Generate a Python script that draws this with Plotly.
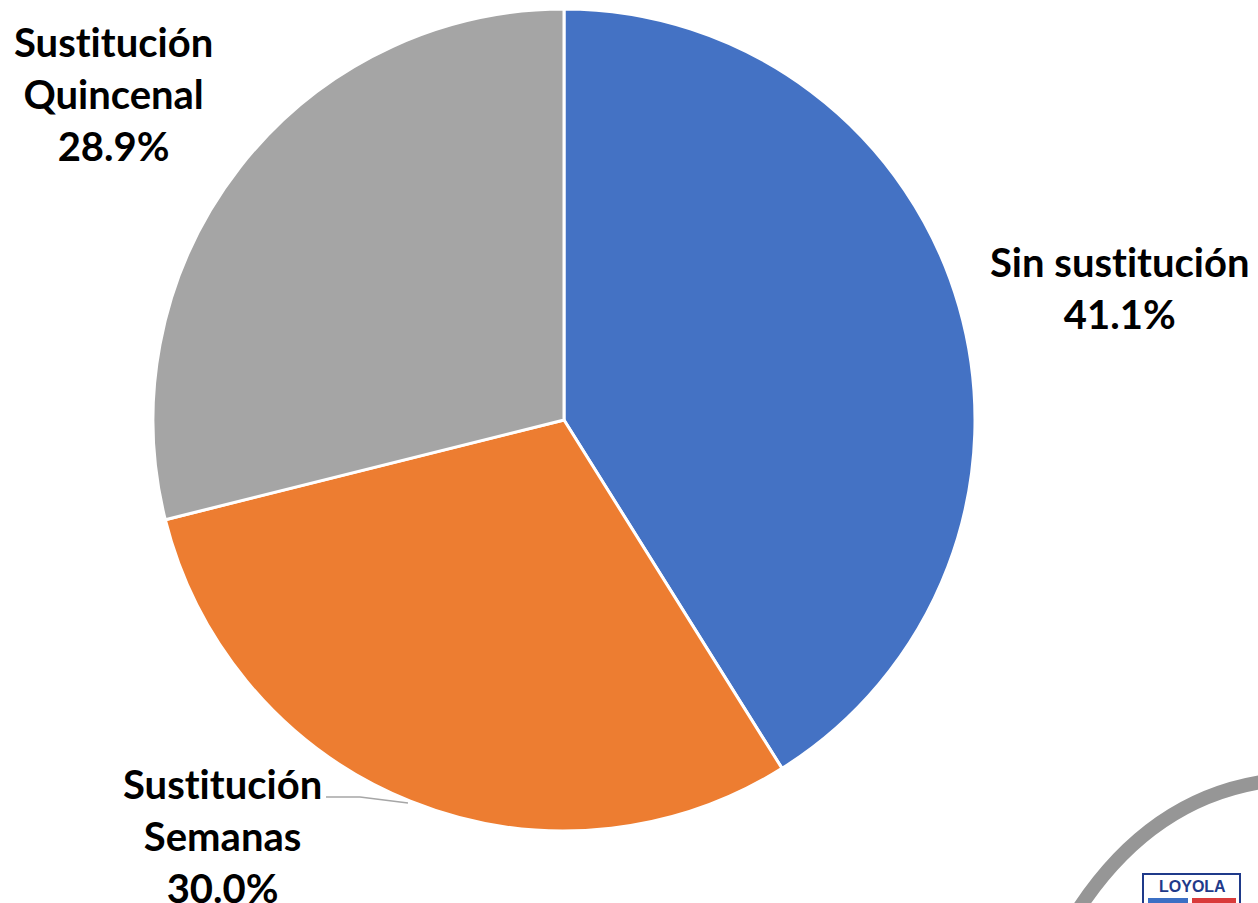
import plotly.graph_objects as go

# Data
categories = ["Sin sustitución", "Sustitución Semanas", "Sustitución Quincenal"]
label_lines = [["Sin sustitución"], ["Sustitución", "Semanas"], ["Sustitución", "Quincenal"]]
shares = [41.1, 30.0, 28.9]
colors = ["#4472C4", "#ED7D31", "#A5A5A5"]

W, H = 1258, 903


def px(x):
    return x / W


def py(y):
    return 1 - y / H


def no_lig(s):
    # keep "t" and "i" as separate glyphs (no "ti" ligature)
    return s.replace("ti", "t\u200ci")


# Pie geometry in pixels
cx, cy, r = 564, 420, 411

fig = go.Figure(
    go.Pie(
        labels=categories,
        values=shares,
        sort=False,
        direction="clockwise",
        rotation=0,
        textinfo="none",
        hoverinfo="label+percent",
        marker=dict(colors=colors, line=dict(color="white", width=3)),
        domain=dict(x=[px(cx - r), px(cx + r)], y=[py(cy + r), py(cy - r)]),
        showlegend=False,
    )
)

# Outside label positions (pixel centres of the text block)
label_pos = [(1120, 288), (222, 836), (113, 94)]
font = dict(family="Lato, Open Sans, sans-serif", size=40, color="#000000")
for lines, val, (lx, ly) in zip(label_lines, shares, label_pos):
    txt = "<b>" + "<br>".join([no_lig(l) for l in lines] + [f"{val:.1f}%"]) + "</b>"
    fig.add_annotation(
        x=px(lx), y=py(ly), xref="paper", yref="paper",
        text=txt, showarrow=False, font=font, align="center",
        xanchor="center", yanchor="middle",
    )

shapes = []
# Leader line for the "Semanas" label
shapes.append(dict(
    type="path", xref="paper", yref="paper",
    path=f"M {px(326)} {py(797)} L {px(360)} {py(797)} L {px(408)} {py(803)}",
    line=dict(color="#A6A6A6", width=1.5),
))
# Logo arc in the lower-right corner
shapes.append(dict(
    type="path", xref="paper", yref="paper",
    path=f"M {px(1078)} {py(910)} Q {px(1150)} {py(800)} {px(1262)} {py(782)}",
    line=dict(color="#969696", width=14),
))
# Logo badge
shapes.append(dict(
    type="rect", xref="paper", yref="paper",
    x0=px(1143), x1=px(1240), y0=py(910), y1=py(874),
    line=dict(color="#1F3A8A", width=2), fillcolor="white",
))
shapes.append(dict(
    type="rect", xref="paper", yref="paper",
    x0=px(1148), x1=px(1188), y0=py(904), y1=py(898),
    line=dict(width=0), fillcolor="#3B6FC4",
))
shapes.append(dict(
    type="rect", xref="paper", yref="paper",
    x0=px(1192), x1=px(1236), y0=py(904), y1=py(898),
    line=dict(width=0), fillcolor="#D93A3A",
))
fig.add_annotation(
    x=px(1192), y=py(886), xref="paper", yref="paper", text="<b>LOYOLA</b>",
    showarrow=False, font=dict(family="Liberation Sans, sans-serif", size=16, color="#1F3A8A"),
    xanchor="center", yanchor="middle",
)

fig.update_layout(
    width=W, height=H,
    margin=dict(l=0, r=0, t=0, b=0),
    paper_bgcolor="white", plot_bgcolor="white",
    shapes=shapes,
)

fig.write_html("out.html")
